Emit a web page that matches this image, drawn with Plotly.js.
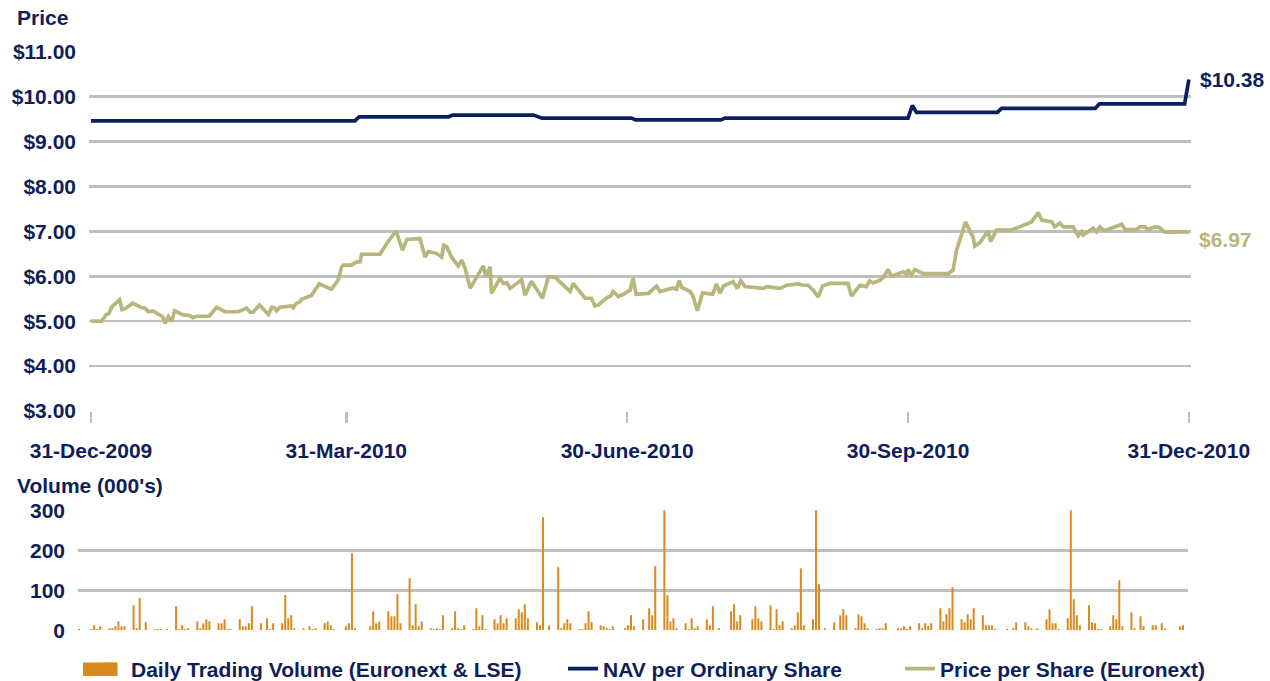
<!DOCTYPE html>
<html>
<head>
<meta charset="utf-8">
<script src="https://cdn.plot.ly/plotly-3.0.1.min.js"></script>
<style>html,body{margin:0;padding:0;background:#fff;}#chart{width:1270px;height:681px;}</style>
</head>
<body>
<div id="chart"></div>
<script>
// ---- Data ----
// Price chart x = trading-day index (31-Dec-2009 = 0 ... 31-Dec-2010 = 258)
const tickIdx = [0, 60, 126, 192, 258];
const tickLabels = ["31-Dec-2009", "31-Mar-2010", "30-June-2010", "30-Sep-2010", "31-Dec-2010"];

const priceIdx = [0, 2.5, 3.5, 4.2, 4.9, 6.7, 7.3, 8.2, 9.8, 11.9, 12.7, 13.5, 14.6, 16.2, 16.8, 17.4, 18.2, 19.0, 19.6, 21.7,
  23.3, 23.9, 24.8, 27.8, 29.5, 31.5, 34.6, 36.6, 37.4, 38.1, 39.6, 41.7, 42.5, 43.2, 43.6, 44.4, 47.1, 47.5, 48.3, 49.1,
  49.5, 51.8, 53.6, 56.5, 58.1, 58.9, 59.3, 61.2, 62.4, 63.2, 63.6, 67.9, 69.5, 71.7,
  73.2, 74.2, 77.3, 78.5, 79.3, 81.2, 82.4, 82.9, 83.6, 84.7, 86.3, 87.1, 87.9, 89.1, 91.4, 92.2, 92.8, 93.8, 94.1, 96.1,
  96.9, 97.7, 98.5, 101.2, 102.0, 103.5, 106.1, 107.5, 109.0, 112.6, 113.3, 116.1, 117.6, 118.4, 119.2, 121.2, 122.1, 122.7, 123.9, 125.1,
  126.7, 127.4, 128.1, 131.0, 132.9, 133.7, 136.8, 137.6, 138.2, 138.8, 140.8, 141.5, 142.5, 143.7, 146.1, 147.0, 147.8, 148.6, 150.9, 151.9,
  152.7, 153.7, 158.0, 158.8, 161.9, 163.5, 166.2,
  167.4, 168.5, 169.7, 170.9, 171.9, 173.6, 177.9, 178.7, 180.7, 182.2, 183.0, 183.8, 185.4, 186.2, 187.3, 188.1, 190.9, 191.7, 192.0, 192.8,
  193.6, 195.6, 201.5, 202.6, 203.4, 204.2, 205.5, 207.3, 207.7, 208.9, 210.8, 211.4, 212.8, 216.3, 219.8, 221.0, 222.6, 223.4, 225.8, 226.5,
  227.7, 228.5, 230.8, 232.0, 232.8, 233.2, 235.5, 236.3, 237.1, 237.9, 238.7, 242.2, 243.0, 245.7, 246.5, 247.7, 248.4, 250.0, 251.0, 252.3,
  257.1, 258];
const priceVal = [5.00, 5.00, 5.14, 5.17, 5.32, 5.48, 5.26, 5.29, 5.40, 5.30, 5.29, 5.21, 5.23, 5.14, 5.10, 4.95, 5.10, 4.99, 5.23, 5.14,
  5.12, 5.08, 5.11, 5.11, 5.31, 5.21, 5.21, 5.29, 5.20, 5.20, 5.36, 5.15, 5.31, 5.29, 5.23, 5.31, 5.34, 5.30, 5.40, 5.43,
  5.49, 5.57, 5.83, 5.71, 5.92, 6.21, 6.25, 6.25, 6.32, 6.32, 6.49, 6.49, 6.73, 7.01,
  6.58, 6.82, 6.84, 6.43, 6.55, 6.51, 6.43, 6.69, 6.66, 6.43, 6.23, 6.36, 6.18, 5.73, 6.10, 6.23, 5.99, 6.21, 5.62, 5.95,
  5.84, 5.86, 5.73, 5.92, 5.58, 5.89, 5.51, 5.99, 5.98, 5.66, 5.84, 5.51, 5.51, 5.34, 5.36, 5.52, 5.56, 5.66, 5.55, 5.60,
  5.69, 5.95, 5.60, 5.62, 5.78, 5.66, 5.74, 5.71, 5.90, 5.75, 5.66, 5.55, 5.23, 5.63, 5.60, 5.83, 5.62, 5.78, 5.88, 5.73,
  5.90, 5.77, 5.73, 5.77, 5.73, 5.80, 5.83,
  5.80, 5.80, 5.69, 5.54, 5.78, 5.84, 5.84, 5.56, 5.80, 5.77, 5.90, 5.85, 5.91, 5.97, 6.15, 6.00, 6.10, 6.04, 6.15, 6.03,
  6.15, 6.06, 6.06, 6.14, 6.58, 6.81, 7.21, 6.87, 6.67, 6.75, 7.01, 6.77, 7.03, 7.03, 7.16, 7.21, 7.42, 7.25, 7.21, 7.10,
  7.18, 7.10, 7.10, 6.90, 6.99, 6.92, 7.07, 6.99, 7.10, 7.03, 7.03, 7.16, 7.04, 7.04, 7.10, 7.10, 7.04, 7.10, 7.09, 6.98,
  6.99, 6.97];

const navIdx = [0, 62, 63, 84, 85, 104, 106, 127, 128, 148, 149, 192, 193, 194, 213, 214, 236, 237, 257, 258];
const navVal = [9.46, 9.46, 9.55, 9.55, 9.59, 9.59, 9.52, 9.52, 9.48, 9.48, 9.52, 9.52, 9.80, 9.65, 9.65, 9.74, 9.74, 9.84, 9.84, 10.38];

// Volume chart x = calendar-day position, only non-zero days listed (000's)
const volDay = [0, 4, 5, 6, 7, 10, 11, 12, 13, 14, 15, 18, 19, 20, 22, 25, 26, 27, 29, 32, 33, 34, 35, 36, 39, 40, 41, 42, 43, 46, 47, 48, 49, 50,
  53, 54, 55, 56, 57, 60, 62, 63, 64, 67, 68, 69, 70, 71,
  74, 76, 77, 78, 81, 82, 83, 84, 88, 89, 90, 91, 96, 97, 98, 99, 102, 103, 104, 105, 106, 109, 110, 111, 112, 113, 116, 117, 118, 119, 120,
  123, 124, 125, 126, 127, 130, 131, 132, 133, 134, 137, 138, 139, 140, 141, 144, 145, 146,
  147, 148, 151, 152, 153, 155, 158, 159, 160, 161, 162, 165, 166, 167, 168, 169, 172, 173, 174, 175, 176, 180, 181, 182, 183, 186, 188, 189,
  190, 193, 194, 195, 196, 197, 200, 201, 202, 203, 204, 207, 208, 209, 211, 215, 216, 217, 218,
  222, 223, 224, 225, 228, 229, 230, 231, 232, 235, 236, 237, 238, 239, 242, 243, 244, 246, 249, 251, 252, 253, 256, 257, 258, 259, 260, 263,
  264, 265, 266, 270, 271, 272, 273, 274, 277, 278, 279, 280, 281, 284, 285, 286, 287, 288, 291, 292, 293,
  294, 295, 298, 299, 300, 301, 302, 306, 308, 309, 312, 313, 314, 316, 319, 320, 321, 322, 323, 326, 327, 328, 329, 330, 333, 334, 335, 336,
  337, 340, 341, 342, 343, 344, 347, 348, 350, 351, 354, 355, 357, 358, 363, 364];
const volVal = [3, 3, 12.5, 3, 10, 5, 5, 10, 22, 10, 10, 62, 5, 81, 20, 3, 3, 3, 3, 60, 3, 12.5, 3, 5, 22, 5, 17.5, 27.5, 22, 17.5, 17.5, 27.5, 3, 3,
  27.5, 10, 10, 17.5, 60, 17.5, 30, 3, 17.5, 17.5, 88, 30, 37.5, 5,
  5, 10, 3, 5, 17.5, 22, 12.5, 3, 10, 17.5, 192.5, 5, 10, 47.5, 17.5, 22, 47.5, 35, 35, 90, 17.5, 130, 12.5, 65, 10, 22, 5, 3, 5, 3, 37.5,
  5, 47.5, 5, 3, 12.5, 3, 55, 10, 37.5, 3, 27.5, 17.5, 37.5, 17.5, 30, 30, 52.5, 45,
  65, 30, 20, 12.5, 282.5, 12.5, 157.5, 5, 17.5, 27.5, 17.5, 3, 3, 17.5, 47.5, 20, 12.5, 10, 5, 3, 10, 5, 12.5, 37.5, 10, 27.5, 55, 37.5,
  160, 310, 87.5, 22, 30, 5, 17.5, 3, 30, 5, 10, 27.5, 12.5, 60, 5, 47.5, 65, 22, 37.5,
  27.5, 60, 30, 22, 62.5, 3, 52.5, 12.5, 22, 5, 12.5, 45, 155, 12.5, 27.5, 310, 115, 5, 20, 37.5, 52.5, 37.5, 5, 40, 35, 17.5, 5, 3,
  5, 5, 17.5, 5, 5, 10, 3, 10, 17.5, 5, 17.5, 10, 17.5, 55, 22, 40, 55, 107.5, 27.5, 20, 40,
  27.5, 55, 37.5, 12.5, 12.5, 12.5, 3, 3, 5, 20, 20, 10, 5, 5, 27.5, 52.5, 17.5, 17.5, 3, 30, 310, 77.5, 37.5, 12.5, 62.5, 20, 17.5, 3,
  3, 10, 37.5, 27.5, 125, 10, 45, 5, 35, 10, 12.5, 12.5, 17.5, 5, 10, 12.5];
const volTicks = [0, 100, 200, 300];

// ---- Styling ----
const W = 1270, H = 681;
const NAVY = '#0b1f5e';
const TEXT = '#0f1e5a';
const KHAKI = '#b8b67c';
const ORANGE = '#d98a1e';
const GRID = '#bfbfbf';
const FONT = 'Liberation Sans, Arial, Helvetica, sans-serif';
const FS = 21;
const bold = (size, color) => ({family: FONT, size: size, color: color, weight: 'bold'});

const traces = [
  {type: 'bar', x: volDay, y: volVal, xaxis: 'x2', yaxis: 'y2', width: 0.66,
   marker: {color: ORANGE, line: {width: 0}}, cliponaxis: false,
   name: 'Daily Trading Volume (Euronext & LSE)', legend: 'legend', hoverinfo: 'skip'},
  {type: 'scatter', mode: 'lines', x: navIdx, y: navVal, xaxis: 'x', yaxis: 'y',
   line: {color: NAVY, width: 3.7}, name: 'NAV per Ordinary Share', legend: 'legend2', cliponaxis: false},
  {type: 'scatter', mode: 'lines', x: priceIdx, y: priceVal, xaxis: 'x', yaxis: 'y',
   line: {color: KHAKI, width: 3.7}, name: 'Price per Share (Euronext)', legend: 'legend3', cliponaxis: false}
];

const legendCommon = {orientation: 'h', yanchor: 'middle', xanchor: 'left', y: 1 - 669 / H,
  font: bold(FS, TEXT), bgcolor: 'rgba(0,0,0,0)', borderwidth: 0};

const lastNav = navVal[navVal.length - 1];
const lastPrice = priceVal[priceVal.length - 1];

const layout = {
  width: W, height: H,
  margin: {l: 0, r: 0, t: 0, b: 0, autoexpand: false},
  paper_bgcolor: '#ffffff', plot_bgcolor: 'rgba(0,0,0,0)',
  font: bold(FS, TEXT),
  showlegend: true,
  xaxis: {domain: [89 / W, 1191 / W], range: [-0.47, 258.5], anchor: 'y',
    tickmode: 'array', tickvals: tickIdx, ticktext: tickLabels,
    ticks: 'outside', ticklen: 11, tickwidth: 2.5, tickcolor: GRID,
    showgrid: false, zeroline: false, showline: false,
    ticklabelstandoff: 10, tickfont: bold(FS, TEXT)},
  yaxis: {domain: [1 - 411 / H, 1 - 51.7 / H], range: [3, 11], anchor: 'x',
    tick0: 3, dtick: 1, tickprefix: '$', tickformat: '.2f',
    gridcolor: GRID, gridwidth: 2.6, zeroline: false, showline: false, ticks: '',
    ticklabelstandoff: 12, tickfont: bold(FS, TEXT)},
  xaxis2: {domain: [78 / W, 1188 / W], range: [-0.33, 365.65], anchor: 'y2',
    showgrid: false, zeroline: false, showline: false, showticklabels: false, ticks: ''},
  yaxis2: {domain: [1 - 630.3 / H, 1 - 510.3 / H], range: [0, 300], anchor: 'x2',
    tickmode: 'array', tickvals: volTicks,
    gridcolor: GRID, gridwidth: 2.6, zeroline: false, showline: false, ticks: '',
    ticklabelstandoff: 12, tickfont: bold(FS, TEXT)},
  legend: Object.assign({x: 91 / W}, legendCommon),
  legend2: Object.assign({x: 563 / W}, legendCommon),
  legend3: Object.assign({x: 900 / W}, legendCommon),
  shapes: [
    // widen the volume legend swatch to the reference's wide orange block
    {type: 'rect', xref: 'paper', yref: 'paper', x0: 83 / W, x1: 117.5 / W, y0: 1 - 676 / H, y1: 1 - 662.5 / H,
     fillcolor: ORANGE, line: {width: 0}, layer: 'above'}
  ],
  annotations: [
    {xref: 'paper', yref: 'paper', x: 15 / W, y: 1 - 18 / H, xanchor: 'left', yanchor: 'middle',
     text: 'Price', showarrow: false, font: bold(FS, TEXT)},
    {xref: 'paper', yref: 'paper', x: 15 / W, y: 1 - 485 / H, xanchor: 'left', yanchor: 'middle',
     text: "Volume (000's)", showarrow: false, font: bold(FS, TEXT)},
    {xref: 'x', yref: 'y', x: navIdx[navIdx.length - 1], y: lastNav, xanchor: 'left', yanchor: 'middle',
     xshift: 9, text: '$' + lastNav.toFixed(2), showarrow: false, font: bold(FS, NAVY)},
    {xref: 'x', yref: 'y', x: priceIdx[priceIdx.length - 1], y: lastPrice, xanchor: 'left', yanchor: 'middle',
     xshift: 8, yshift: -6.5, text: '$' + lastPrice.toFixed(2), showarrow: false, font: bold(FS, KHAKI)}
  ]
};

Plotly.newPlot('chart', traces, layout, {displayModeBar: false, staticPlot: true});
</script>
</body>
</html>
